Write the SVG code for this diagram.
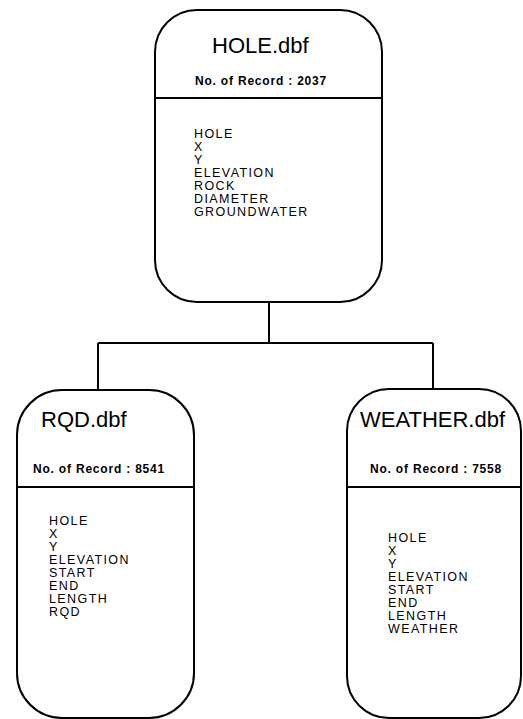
<svg xmlns="http://www.w3.org/2000/svg" width="523" height="719" viewBox="0 0 523 719">
<style>
.box{fill:#fff;stroke:#000;stroke-width:2}
.div{stroke:#000;stroke-width:2}
.conn{fill:none;stroke:#000;stroke-width:2}
.title{font-family:"Liberation Sans",Arial,sans-serif;font-size:22px;fill:#000}
.rec{font-family:"Liberation Sans",Arial,sans-serif;font-size:12px;font-weight:bold;letter-spacing:0.8px;fill:#000}
.fld{font-family:"Liberation Sans",Arial,sans-serif;font-size:12.5px;letter-spacing:1.4px;fill:#000}
</style>
<rect width="523" height="719" fill="#fff"/>
<g id="connectors">
<path class="conn" d="M269 302 V343 M98 343 H433 M98 343 V390 M433 343 V389"/>
</g>
<g id="hole">
<rect class="box" x="155" y="10" width="227" height="292" rx="42" ry="42"/>
<line class="div" x1="155" y1="98" x2="382" y2="98"/>
<text class="title" x="212" y="53">HOLE.dbf</text>
<text class="rec" x="195" y="85">No. of Record : 2037</text>
<text class="fld" x="194" y="138">HOLE</text>
<text class="fld" x="194" y="151">X</text>
<text class="fld" x="194" y="164">Y</text>
<text class="fld" x="194" y="177">ELEVATION</text>
<text class="fld" x="194" y="190">ROCK</text>
<text class="fld" x="194" y="203">DIAMETER</text>
<text class="fld" x="194" y="216">GROUNDWATER</text>
</g>
<g id="rqd">
<rect class="box" x="17" y="390" width="177" height="328" rx="45" ry="45"/>
<line class="div" x1="17" y1="487" x2="194" y2="487"/>
<text class="title" x="41" y="427">RQD.dbf</text>
<text class="rec" x="33" y="473">No. of Record : 8541</text>
<text class="fld" x="49" y="525">HOLE</text>
<text class="fld" x="49" y="538">X</text>
<text class="fld" x="49" y="551">Y</text>
<text class="fld" x="49" y="564">ELEVATION</text>
<text class="fld" x="49" y="577">START</text>
<text class="fld" x="49" y="590">END</text>
<text class="fld" x="49" y="603">LENGTH</text>
<text class="fld" x="49" y="616">RQD</text>
</g>
<g id="weather">
<rect class="box" x="347" y="389" width="174" height="329" rx="42" ry="42"/>
<line class="div" x1="347" y1="487" x2="521" y2="487"/>
<text class="title" x="360" y="427">WEATHER.dbf</text>
<text class="rec" x="370" y="473">No. of Record : 7558</text>
<text class="fld" x="388" y="542">HOLE</text>
<text class="fld" x="388" y="555">X</text>
<text class="fld" x="388" y="568">Y</text>
<text class="fld" x="388" y="581">ELEVATION</text>
<text class="fld" x="388" y="594">START</text>
<text class="fld" x="388" y="607">END</text>
<text class="fld" x="388" y="620">LENGTH</text>
<text class="fld" x="388" y="633">WEATHER</text>
</g>
</svg>
